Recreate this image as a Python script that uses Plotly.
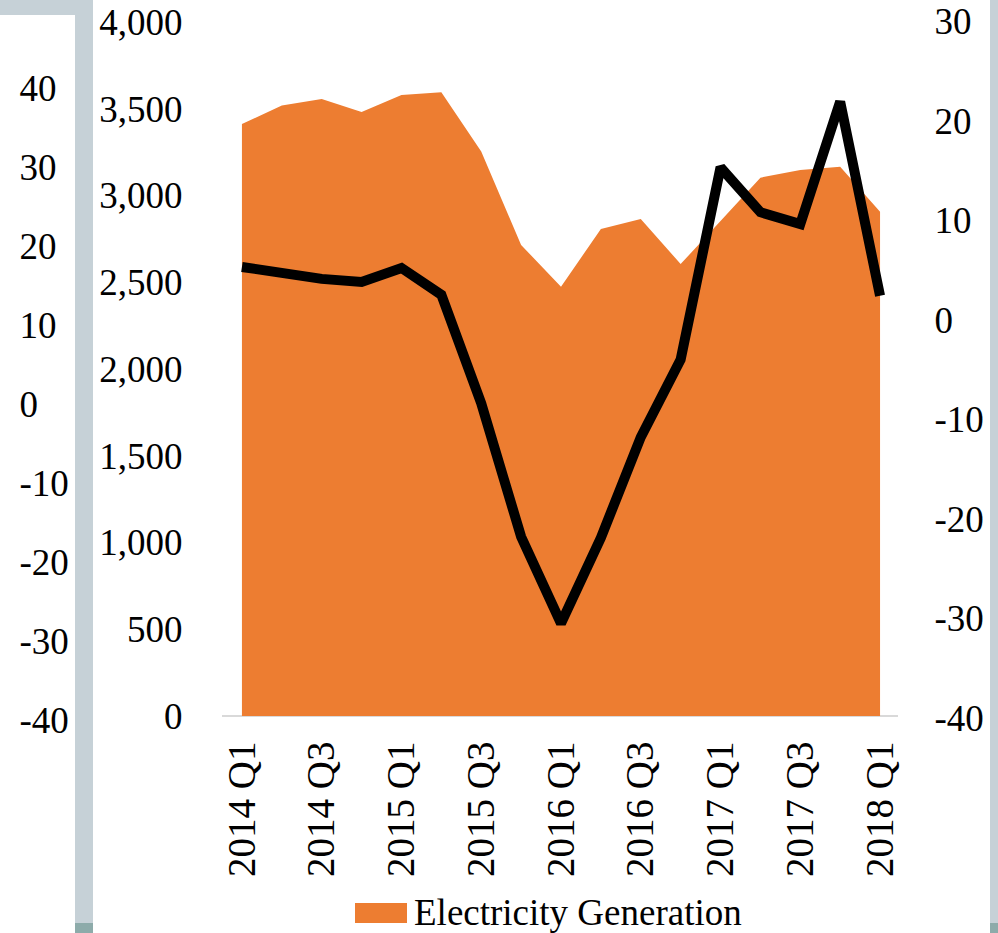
import plotly.graph_objects as go

quarters = ["2014 Q1", "2014 Q2", "2014 Q3", "2014 Q4",
            "2015 Q1", "2015 Q2", "2015 Q3", "2015 Q4",
            "2016 Q1", "2016 Q2", "2016 Q3", "2016 Q4",
            "2017 Q1", "2017 Q2", "2017 Q3", "2017 Q4",
            "2018 Q1"]
generation = [3412, 3518, 3556, 3481, 3579, 3595, 3253, 2715, 2474,
              2807, 2865, 2605, 2853, 3103, 3147, 3166, 2907]
growth = [5.3, 4.7, 4.1, 3.8, 5.2, 2.5, -8.4, -21.8, -30.5,
          -21.9, -11.8, -4.0, 15.3, 10.8, 9.6, 21.9, 2.4]
tick_quarters = quarters[::2]
left_ticks = [40, 30, 20, 10, 0, -10, -20, -30, -40]
mid_ticks = [0, 500, 1000, 1500, 2000, 2500, 3000, 3500, 4000]
right_ticks = [30, 20, 10, 0, -10, -20, -30, -40]
legend_label = "Electricity Generation"

FONT = "Liberation Serif"
FS = 37
ORANGE = "#ED7D31"
GREY = "#C6D1D7"
DARK = "#8DABAA"

W, H = 998, 933
ML, MR, MT, MB = 0, 100, 20, 212
PW = W - ML - MR
PH = H - MT - MB


def px_x(x):
    return (x - ML) / PW


def px_y(y):
    return (H - MB - y) / PH


def labels(vals):
    return [str(v) for v in vals]


fig = go.Figure()
fig.add_trace(go.Scatter(
    x=quarters, y=generation, name=legend_label,
    mode="none", fill="tozeroy", fillcolor=ORANGE, yaxis="y",
    showlegend=False,
))
fig.add_trace(go.Scatter(
    x=quarters, y=growth, name="Growth", mode="lines",
    line=dict(color="black", width=10), yaxis="y2", showlegend=False,
))
# invisible trace to host the left-most axis
fig.add_trace(go.Scatter(
    x=[quarters[0]], y=[0], mode="markers", marker=dict(opacity=0),
    yaxis="y3", showlegend=False, hoverinfo="skip",
))

shapes = []
for (x0, x1, y0, y1, c) in [
    (0, 93, 0, 15, GREY),
    (75, 93, 0, 923, GREY),
    (75, 93, 923, 933, DARK),
    (990, 998, 0, 923, GREY),
    (990, 998, 923, 933, DARK),
    (355, 407, 903, 923, ORANGE),  # legend swatch
]:
    shapes.append(dict(type="rect", xref="paper", yref="paper",
                       x0=px_x(x0), x1=px_x(x1), y0=px_y(y1), y1=px_y(y0),
                       fillcolor=c, line=dict(width=0), layer="above"))

fig.update_layout(
    width=W, height=H,
    margin=dict(l=ML, r=MR, t=MT, b=MB, pad=0, autoexpand=False),
    paper_bgcolor="white", plot_bgcolor="white",
    font=dict(family=FONT, size=FS, color="black"),
    xaxis=dict(
        domain=[px_x(222), 1], type="category",
        range=[-0.5, 16.45], automargin=False,
        tickmode="array", tickvals=tick_quarters, ticktext=tick_quarters,
        tickangle=-90, showgrid=False, zeroline=False, showline=False,
        tickfont=dict(family=FONT, size=39, color="black"),
        ticks="outside", ticklen=4, tickcolor="rgba(0,0,0,0)",
    ),
    yaxis=dict(
        range=[-28.8, 4011.5], tickmode="array", tickvals=mid_ticks,
        ticktext=[f"{v:,}" for v in mid_ticks], automargin=False,
        showgrid=False, showline=False,
        zeroline=True, zerolinecolor="#D9D9D9", zerolinewidth=2,
        ticks="outside", ticklen=31, tickcolor="rgba(0,0,0,0)",
    ),
    yaxis2=dict(
        range=[-40.3, 30.1], overlaying="y", side="right", anchor="x",
        tickmode="array", tickvals=right_ticks, ticktext=labels(right_ticks),
        showgrid=False, zeroline=False, showline=False, automargin=False,
        ticks="outside", ticklen=28, tickcolor="rgba(0,0,0,0)",
    ),
    yaxis3=dict(
        range=[-40.13, 48.61], overlaying="y", side="right", anchor="free",
        position=px_x(10), tickmode="array", tickvals=left_ticks,
        ticktext=labels(left_ticks), automargin=False,
        showgrid=False, zeroline=False, showline=False,
        ticks="outside", ticklen=1, tickcolor="rgba(0,0,0,0)",
    ),
    annotations=[dict(
        text=legend_label, xref="paper", yref="paper",
        x=px_x(412), y=px_y(912), xanchor="left", yanchor="middle",
        showarrow=False, font=dict(family=FONT, size=FS, color="black"),
    )],
    shapes=shapes,
    showlegend=False,
)

fig.write_html(
    "out.html",
    config={"displayModeBar": False},
    post_script="document.body.style.margin='0';document.body.style.overflow='hidden';",
)
